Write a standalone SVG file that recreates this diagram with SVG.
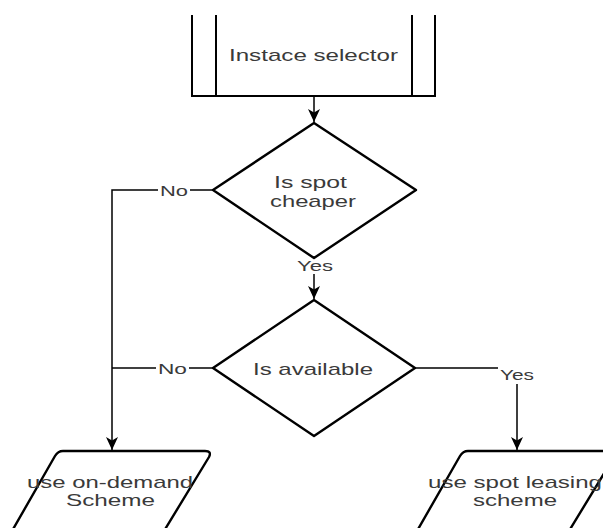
<svg xmlns="http://www.w3.org/2000/svg" width="603" height="528" viewBox="0 0 603 528">
<style>
.shape{fill:#fff;stroke:#000;stroke-width:2.4;stroke-linejoin:round}
.edge{fill:none;stroke:#000;stroke-width:1.5}
.t{font-family:"Liberation Sans",Arial,sans-serif;font-size:17px;fill:#3a3a3a;text-anchor:middle}
.l{font-family:"Liberation Sans",Arial,sans-serif;font-size:14px;fill:#3a3a3a;text-anchor:middle}
.lbg{fill:#fff}
</style>
<defs>
<marker id="arr" markerUnits="userSpaceOnUse" markerWidth="14" markerHeight="14" viewBox="0 0 14 14" refX="13" refY="7" orient="auto">
<path d="M0,1 L13,7 L0,13 L3.5,7 z" fill="#000"/>
</marker>
</defs>
<g id="connectors">
<path class="edge" d="M314,96 L314,122" marker-end="url(#arr)"/>
<path class="edge" d="M314,258 L314,299" marker-end="url(#arr)"/>
<path class="edge" d="M213,190 L112,190 L112,450" marker-end="url(#arr)"/>
<path class="edge" d="M213,368 L112,368"/>
<path class="edge" d="M415,368 L517,368 L517,450" marker-end="url(#arr)"/>
<rect class="lbg" x="158" y="182" width="32" height="16"/>
<text class="l" x="174" y="196" textLength="28" lengthAdjust="spacingAndGlyphs">No</text>
<rect class="lbg" x="296" y="258" width="38" height="16"/>
<text class="l" x="315" y="271" textLength="36" lengthAdjust="spacingAndGlyphs">Yes</text>
<rect class="lbg" x="156" y="360" width="33" height="16"/>
<text class="l" x="172.5" y="373.5" textLength="29" lengthAdjust="spacingAndGlyphs">No</text>
<rect class="lbg" x="498" y="366" width="38" height="18"/>
<text class="l" x="517" y="380" textLength="34" lengthAdjust="spacingAndGlyphs">Yes</text>
</g>
<g id="instance-selector">
<path d="M192,15 L192,96 L435,96 L435,15 M216,15 L216,96 M412,15 L412,96" fill="none" stroke="#000" stroke-width="2"/>
<text class="t" x="313.5" y="61" textLength="169" lengthAdjust="spacingAndGlyphs">Instace selector</text>
</g>
<g id="is-spot-cheaper">
<path class="shape" d="M314,123 L416,190 L314,258 L213,190 Z"/>
<text class="t" x="310.5" y="187.5" textLength="73" lengthAdjust="spacingAndGlyphs">Is spot</text>
<text class="t" x="313" y="206.5" textLength="86" lengthAdjust="spacingAndGlyphs">cheaper</text>
</g>
<g id="is-available">
<path class="shape" d="M314,300 L415,368 L314,436 L213,368 Z"/>
<text class="t" x="313" y="375" textLength="120" lengthAdjust="spacingAndGlyphs">Is available</text>
</g>
<g id="on-demand">
<path class="shape" d="M63,451 L205,451 Q212,451 209,457 L164,531 L12,531 L55,456 Q58,451 63,451 Z"/>
<text class="t" x="110" y="488" textLength="166" lengthAdjust="spacingAndGlyphs">use on-demand</text>
<text class="t" x="110.5" y="506" textLength="89" lengthAdjust="spacingAndGlyphs">Scheme</text>
</g>
<g id="spot-leasing">
<path class="shape" d="M468,451 L610,451 Q617,451 614,457 L569,531 L417,531 L460,456 Q463,451 468,451 Z"/>
<text class="t" x="515" y="488" textLength="174" lengthAdjust="spacingAndGlyphs">use spot leasing</text>
<text class="t" x="515" y="506" textLength="84" lengthAdjust="spacingAndGlyphs">scheme</text>
</g>
</svg>
